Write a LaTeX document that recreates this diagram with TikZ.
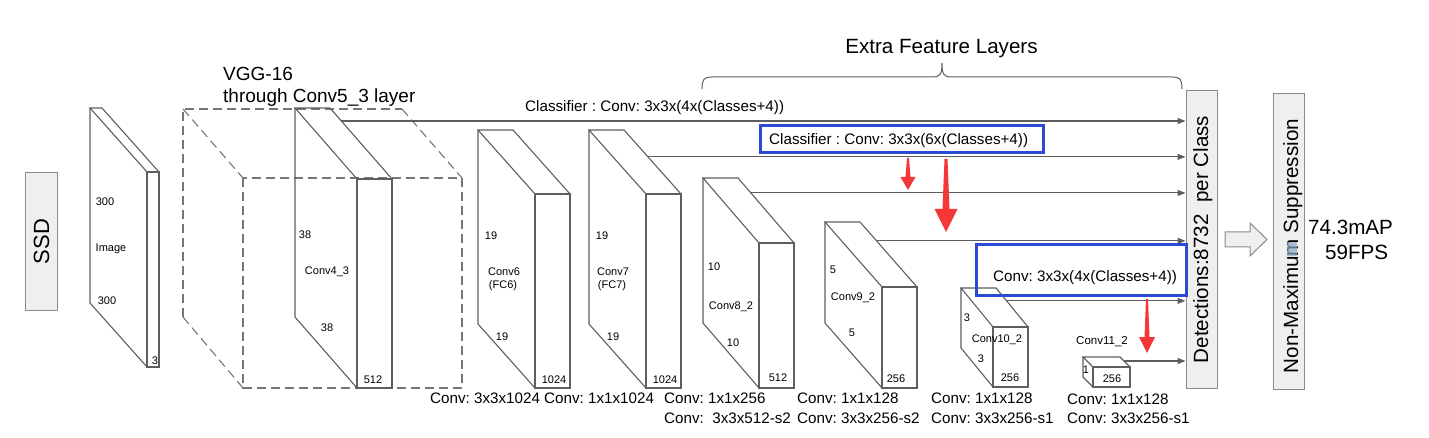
\documentclass[tikz,border=0pt]{standalone}
\usepackage{fontspec}
\setmainfont{Liberation Sans}
\usetikzlibrary{arrows.meta,calc}
\definecolor{lc}{HTML}{5E5E5E}
\definecolor{bx}{HTML}{EFEFEF}
\definecolor{bxd}{HTML}{8A8A8A}
\definecolor{bl}{RGB}{45,75,210}
\definecolor{rd}{RGB}{245,55,55}
\definecolor{hl}{RGB}{140,170,200}
% name, L, R, T, B, dx, dy  (screen pixels, y downward)
\newcommand{\myslab}[7]{%
  \coordinate (#1-ftl) at (#2,#4);
  \coordinate (#1-ftr) at (#3,#4);
  \coordinate (#1-fbl) at (#2,#5);
  \coordinate (#1-fbr) at (#3,#5);
  \coordinate (#1-btl) at ({#2-#6},{#4-#7});
  \coordinate (#1-btr) at ({#3-#6},{#4-#7});
  \coordinate (#1-bbl) at ({#2-#6},{#5-#7});
  \draw[slabline] (#1-ftl) rectangle (#1-fbr);
  \draw[slabline] (#1-ftl) -- (#1-btl) -- (#1-btr) -- (#1-ftr);
  \draw[slabline] (#1-btl) -- (#1-bbl) -- (#1-fbl);
}
\begin{document}
\frenchspacing
\begin{tikzpicture}[x=1pt,y=-1pt,
  slabline/.style={draw=lc, line width=1.1pt, line join=miter},
  dashline/.style={draw=lc!85, line width=1.1pt, dash pattern=on 9pt off 5pt},
  lbl/.style={font=\fontsize{11}{13}\selectfont, inner sep=0pt, anchor=base},
  captxt/.style={font=\fontsize{15.2}{18}\selectfont, inner sep=0pt, anchor=base west},
  big/.style={font=\fontsize{20.6}{24}\selectfont, inner sep=0pt},
  graybox/.style={draw=bxd, fill=bx, line width=1pt, inner sep=0pt},
  arr/.style={draw=lc, line width=1.1pt, -{Triangle[length=8pt,width=6pt]}},
  bluebox/.style={draw=bl, line width=3pt, inner sep=0pt},
  redarrow/.style={fill=rd, draw=none},
  bracestyle/.style={draw=lc, line width=1pt}]
\useasboundingbox (0,0) rectangle (1429,438);

% ---------- SSD box ----------
\node[graybox, minimum width=32pt, minimum height=137pt] (ssd) at (41,241.5) {};
\node[big, font=\fontsize{22}{26}\selectfont, rotate=90, anchor=base] (ssdt) at (49,241.5) {SSD};

% ---------- Image slab ----------
\myslab{img}{147}{159}{172}{367}{57}{64}
\node[lbl] (img1) at (105,206) {300};
\node[lbl] (img2) at (111,252) {Image};
\node[lbl] (img3) at (107,304) {300};
\node[lbl] (img4) at (155,364) {3};

% ---------- VGG dashed box ----------
\coordinate (v-btl) at (183,109);
\coordinate (v-btr) at (402,109);
\coordinate (v-bbl) at (183,317);
\coordinate (v-ftl) at (243,178);
\coordinate (v-ftr) at (462,178);
\coordinate (v-fbl) at (243,388);
\coordinate (v-fbr) at (462,388);
\draw[dashline] (v-bbl) -- (v-btl) -- (v-btr);
\draw[dashline] (v-btl) -- (v-ftl);
\draw[dashline] (v-btr) -- (v-ftr);
\draw[dashline] (v-bbl) -- (v-fbl);
\draw[dashline] (v-ftl) rectangle (v-fbr);
\node[big, font=\fontsize{19}{22}\selectfont, anchor=base west] (vgg1) at (223,81) {VGG-16};
\node[big, font=\fontsize{19}{22}\selectfont, anchor=base west] (vgg2) at (223,103) {through Conv5\_3 layer};

% ---------- Conv4_3 ----------
\myslab{c4}{357}{392}{179}{388}{62}{71}
\node[lbl] (c4a) at (305,239) {38};
\node[lbl] (c4b) at (327,275) {Conv4\_3};
\node[lbl] (c4c) at (327,331) {38};
\node[lbl] (c4d) at (373,383) {512};

% ---------- Conv6 ----------
\myslab{c6}{535}{570}{194}{388}{57}{64}
\node[lbl] (c6a) at (491,240) {19};
\node[lbl] (c6b) at (504,276) {Conv6};
\node[lbl] (c6c) at (503,289) {(FC6)};
\node[lbl] (c6d) at (502,340) {19};
\node[lbl] (c6e) at (554,383) {1024};

% ---------- Conv7 ----------
\myslab{c7}{646}{681}{194}{388}{57}{64}
\node[lbl] (c7a) at (602,240) {19};
\node[lbl] (c7b) at (613,276) {Conv7};
\node[lbl] (c7c) at (612,289) {(FC7)};
\node[lbl] (c7d) at (613,340) {19};
\node[lbl] (c7e) at (665,383) {1024};

% ---------- Conv8_2 ----------
\myslab{c8}{759}{794}{243}{388}{56}{65}
\node[lbl] (c8a) at (714,271) {10};
\node[lbl] (c8b) at (731,309) {Conv8\_2};
\node[lbl] (c8c) at (733,346) {10};
\node[lbl] (c8d) at (778,381) {512};

% ---------- Conv9_2 ----------
\myslab{c9}{882}{917}{287}{388}{57}{65}
\node[lbl] (c9a) at (833,274) {5};
\node[lbl] (c9b) at (853,301) {Conv9\_2};
\node[lbl] (c9c) at (852,336) {5};
\node[lbl] (c9d) at (896,382) {256};

% ---------- Conv10_2 ----------
\myslab{c10}{993}{1028}{327}{387}{32}{39}
\node[lbl] (c10a) at (967,321) {3};
\node[lbl] (c10b) at (997,342) {Conv10\_2};
\node[lbl] (c10c) at (981,362) {3};
\node[lbl] (c10d) at (1010,381) {256};

% ---------- Conv11_2 ----------
\myslab{c11}{1093}{1130}{367}{387}{10}{10}
\node[lbl] (c11a) at (1086,373) {1};
\node[lbl] (c11b) at (1112,382) {256};
\node[lbl, font=\fontsize{11.5}{13}\selectfont] (c11c) at (1102,344) {Conv11\_2};

% ---------- Bottom captions ----------
\node[captxt] (b1) at (430,403.5) {Conv: 3x3x1024};
\node[captxt] (b2) at (544,403.5) {Conv: 1x1x1024};
\node[captxt] (b3) at (664,403.5) {Conv: 1x1x256};
\node[captxt] (b4) at (664,423.5) {Conv:\ \ 3x3x512-s2};
\node[captxt] (b5) at (797,403.5) {Conv: 1x1x128};
\node[captxt] (b6) at (797,423.5) {Conv: 3x3x256-s2};
\node[captxt] (b7) at (931,403.5) {Conv: 1x1x128};
\node[captxt] (b8) at (931,423.5) {Conv: 3x3x256-s1};
\node[captxt] (b9) at (1067,404.5) {Conv: 1x1x128};
\node[captxt] (b10) at (1067,423.5) {Conv: 3x3x256-s1};

% ---------- Detections & NMS ----------
\node[graybox, minimum width=31pt, minimum height=297pt] (det) at (1201.5,239.5) {};
\node[big, rotate=90, anchor=base] (dett) at (1208,239.5) {Detections:8732\ \ per Class};
\node[graybox, minimum width=31pt, minimum height=295pt] (nms) at (1288.5,241.5) {};
\node[big, rotate=90, anchor=base] (nmst) at (1298,246) {Non-Maximum Suppression};
\fill[hl, opacity=0.7] (1287,242) rectangle (1297,256);
\node[big, anchor=base west] (map) at (1308,234.5) {74.3mAP};
\node[big, anchor=base west] (fps) at (1325,259.5) {59FPS};

% hollow arrow
\draw[draw=bxd, fill=bx, line width=1pt, line join=miter]
  (1225,232) -- (1250,232) -- (1250,223) -- (1267,239.5) -- (1250,256) -- (1250,247) -- (1225,247) -- cycle;

% ---------- classifier connectors ----------
\coordinate (s1) at ($(c4-btr)!0.183!(c4-ftr)$);
\coordinate (s2) at ($(c7-btr)!0.42!(c7-ftr)$);
\coordinate (s3) at ($(c8-btr)!0.23!(c8-ftr)$);
\coordinate (s4) at ($(c9-btr)!0.29!(c9-ftr)$);
\coordinate (s5) at ($(c10-btr)!0.33!(c10-ftr)$);
\coordinate (s6) at ($(c11-btr)!0.4!(c11-ftr)$);
\foreach \s in {s1,s2,s3,s4,s5,s6}{
  \draw[arr] (\s) -- (\s -| det.west);
}
\node[captxt] (cl1) at (525,112) {Classifier : Conv: 3x3x(4x(Classes+4))};

% ---------- Extra Feature Layers brace ----------
\draw[bracestyle] (702,89) .. controls (702,79) and (704,77) .. (712,77) -- (932,77)
  .. controls (940,77) and (942,75) .. (942,63)
  .. controls (942,75) and (944,77) .. (952,77) -- (1172,77)
  .. controls (1180,77) and (1182,79) .. (1182,89);
\node[big, anchor=base] (efl) at (941.5,54) {Extra Feature Layers};

% ---------- blue annotation boxes ----------
\node[bluebox, minimum width=283pt, minimum height=27pt] (blue1) at (901.5,139.5) {};
\node[captxt] (cl2) at (769,145) {Classifier : Conv: 3x3x(6x(Classes+4))};
\node[bluebox, minimum width=210pt, minimum height=50pt] (blue2) at (1081,270) {};
\node[captxt] (cl3) at (993,281.5) {Conv: 3x3x(4x(Classes+4))};

% ---------- red arrows ----------
\fill[redarrow] (907,158) -- (909,158) -- (910.5,177) -- (915.5,177) -- (908,190)
  -- (900.5,177) -- (905.5,177) -- cycle;
\fill[redarrow] (944.5,159) -- (947.5,159) -- (949.5,209) -- (957.5,209) -- (946,232)
  -- (934.5,209) -- (942.5,209) -- cycle;
\fill[redarrow] (1146,299) -- (1148,299) -- (1149.5,337) -- (1155,337) -- (1147,353)
  -- (1139,337) -- (1144.5,337) -- cycle;
\end{tikzpicture}
\end{document}
